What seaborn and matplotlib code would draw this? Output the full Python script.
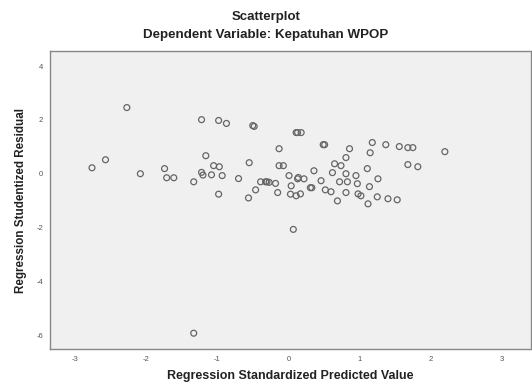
import matplotlib
matplotlib.use("Agg")
import matplotlib.pyplot as plt
import seaborn as sns
import pandas as pd

# Regression standardized predicted value (x) and studentized residual (y)
pred = [-2.27, -2.57, -2.76, -2.08, -1.74, -1.71, -1.61,
        -1.22, -0.98, -0.87, -0.50, -0.48, 0.11, 0.13, 0.18,
        -1.16, -0.13, -0.55, -1.05, -0.97, -0.13, -0.07,
        -1.22, -1.20, -1.08, -0.93, -1.33, -0.70, -0.39, -0.32, -0.30,
        -0.27, -0.18, 0.01, 0.14, 0.04, -0.46, -0.15, -0.98, -0.56,
        0.03, 0.11, 0.07,
        0.49, 0.51, 0.86, 1.18, 1.15, 1.37, 1.56, 1.68, 1.75, 1.68, 1.82,
        0.81, 0.65, 0.74, 0.36, 0.62, 0.81, 0.95, 1.11, 1.26,
        0.13, 0.22, 0.46, 0.72, 0.83, 0.97, 0.31, 0.33, 0.52, 0.60,
        1.14, 0.17, 0.81, 0.98, 1.02, 1.25, 0.69, 1.12, 1.40, 1.53,
        2.20, -1.33]
resid = [2.46, 0.52, 0.22, 0.00, 0.19, -0.15, -0.15,
         2.01, 1.98, 1.87, 1.79, 1.76, 1.53, 1.53, 1.53,
         0.67, 0.93, 0.41, 0.30, 0.26, 0.30, 0.30,
         0.05, -0.05, -0.04, -0.07, -0.30, -0.18, -0.30, -0.30, -0.30,
         -0.32, -0.36, -0.07, -0.14, -0.45, -0.60, -0.70, -0.76, -0.90,
         -0.76, -0.82, -2.07,
         1.08, 1.08, 0.93, 1.16, 0.78, 1.08, 1.01, 0.97, 0.97, 0.34, 0.26,
         0.60, 0.37, 0.30, 0.11, 0.04, 0.00, -0.07, 0.19, -0.19,
         -0.19, -0.19, -0.26, -0.30, -0.30, -0.37, -0.52, -0.52, -0.60, -0.67,
         -0.48, -0.75, -0.70, -0.75, -0.82, -0.86, -1.01, -1.12, -0.93, -0.97,
         0.82, -5.93]

xticks = [-3, -2, -1, 0, 1, 2, 3]
yticks = [4, 2, 0, -2, -4, -6]

df = pd.DataFrame({"pred": pred, "resid": resid})

sns.set_style("white")
plt.rcParams["font.family"] = ["Liberation Sans", "DejaVu Sans"]
plt.rcParams["axes.unicode_minus"] = False

fig = plt.figure(figsize=(5.32, 3.87), dpi=100)
ax = fig.add_axes([0.094, 0.098, 0.904, 0.770])
ax.set_facecolor("#F0F0F0")

sns.scatterplot(data=df, x="pred", y="resid", ax=ax, marker="o", s=18,
                facecolors="none", edgecolor="#656565", linewidth=0.9)

ax.set_xlim(-3.35, 3.41)
ax.set_ylim(-6.52, 4.56)
ax.set_xticks(xticks)
ax.set_yticks(yticks)
ax.tick_params(length=3, width=0.8, color="#777777", labelsize=5.5,
               labelcolor="#555555", pad=2)
for sp in ax.spines.values():
    sp.set_color("#888888")
    sp.set_linewidth(1.0)

ax.set_xlabel("Regression Standardized Predicted Value", fontsize=9,
              fontweight="bold", color="#222222", labelpad=5)
ax.set_ylabel("Regression Studentized Residual", fontsize=8.4,
              fontweight="bold", color="#222222", labelpad=7)

fig.text(0.5, 0.956, "Scatterplot", ha="center", va="center", fontsize=9.5,
         fontweight="bold", color="#222222")
fig.text(0.5, 0.91, "Dependent Variable: Kepatuhan WPOP", ha="center",
         va="center", fontsize=9.6, fontweight="bold", color="#222222")

fig.savefig("out.png", dpi=100)
